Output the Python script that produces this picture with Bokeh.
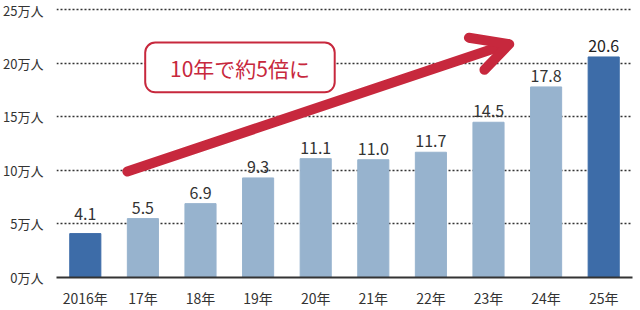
from bokeh.plotting import figure
from bokeh.models import ColumnDataSource, Range1d, FixedTicker, BoxAnnotation, Label
from bokeh.core.properties import value
from bokeh.embed import file_html
from bokeh.resources import INLINE

years = ["2016年", "17年", "18年", "19年", "20年", "21年", "22年", "23年", "24年", "25年"]
values = [4.1, 5.5, 6.9, 9.3, 11.1, 11.0, 11.7, 14.5, 17.8, 20.6]
highlight = [True, False, False, False, False, False, False, False, False, True]
y_ticks = [0, 5, 10, 15, 20, 25]
y_tick_labels = ["0万人", "5万人", "10万人", "15万人", "20万人", "25万人"]
note = "10年で約5倍に"

DARK = "#3d6ca8"
LIGHT = "#97b3ce"
RED = "#c7283d"
TXT = "#333333"
FONT = "Noto Sans CJK JP"

xs = list(range(len(years)))
src = ColumnDataSource(dict(
    x=xs, top=values,
    color=[DARK if h else LIGHT for h in highlight],
    lbl=[f"{v:.1f}" for v in values],
    # first label is lifted above the 5万 gridline, as in the original
    yoff=[-14 if i == 0 else -5 for i in range(len(values))],
    tcol=["#222222" if i == len(values) - 1 else TXT for i in range(len(values))],
))

p = figure(width=640, height=310, output_backend="svg", toolbar_location=None,
           x_range=Range1d(-0.5, len(years) - 0.5), y_range=Range1d(0, 25.5),
           min_border_left=54, min_border_right=8, min_border_top=4, min_border_bottom=20)
p.outline_line_color = None
p.background_fill_color = "white"
p.border_fill_color = "white"

p.vbar(x="x", top="top", width=0.54, color="color", source=src)
p.text(x="x", y="top", text="lbl", source=src, text_align="center", text_baseline="bottom",
       y_offset="yoff", text_font=value(FONT), text_font_size="16px", text_color="tcol")

# grid
p.xgrid.grid_line_color = None
p.ygrid.ticker = FixedTicker(ticks=y_ticks[1:])
p.ygrid.grid_line_color = TXT
p.ygrid.grid_line_dash = "2 2"
p.ygrid.grid_line_width = 1.4

# y axis
p.yaxis.ticker = FixedTicker(ticks=y_ticks)
p.yaxis.major_label_overrides = {t: l for t, l in zip(y_ticks, y_tick_labels)}
p.yaxis.axis_line_color = None
p.yaxis.major_tick_line_color = None
p.yaxis.minor_tick_line_color = None
p.yaxis.major_label_standoff = 7
p.yaxis.major_label_text_font = FONT
p.yaxis.major_label_text_font_size = "13px"
p.yaxis.major_label_text_color = TXT

# x axis
p.xaxis.ticker = FixedTicker(ticks=xs)
p.xaxis.major_label_overrides = {i: y for i, y in enumerate(years)}
p.xaxis.axis_line_color = TXT
p.xaxis.axis_line_width = 2
p.xaxis.major_tick_line_color = None
p.xaxis.minor_tick_line_color = None
p.xaxis.major_label_standoff = 4
p.xaxis.major_label_text_font = FONT
p.xaxis.major_label_text_font_size = "14px"
p.xaxis.major_label_text_color = TXT

# arrow
p.line(x=[0.73, 7.33], y=[9.9, 21.8], line_color=RED, line_width=10, line_cap="round")
p.line(x=[6.66, 7.36, 6.93], y=[22.4, 21.8, 19.4], line_color=RED, line_width=10,
       line_cap="round", line_join="round")

# callout box
box = BoxAnnotation(left=1.04, right=4.33, bottom=17.3, top=21.95,
                    fill_color="white", fill_alpha=1, line_color=RED, line_alpha=1,
                    line_width=2, border_radius=10)
p.add_layout(box)
p.add_layout(Label(x=2.685, y=19.6, text=note, text_align="center", text_baseline="middle",
                   text_font=FONT, text_font_size="21px", text_color=RED))

open("out.html", "w").write(file_html(p, INLINE))
